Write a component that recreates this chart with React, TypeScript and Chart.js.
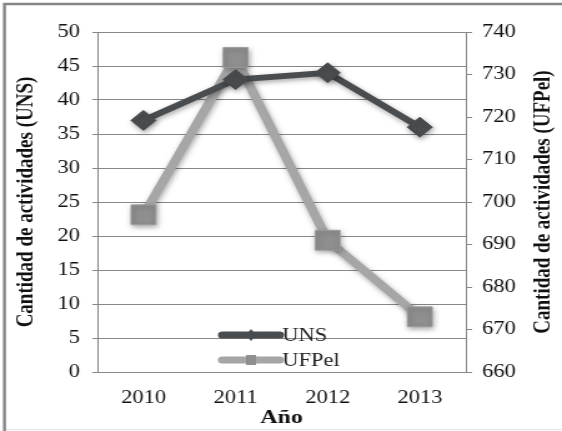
import React, { useEffect, useRef } from 'react';
import { Chart, registerables } from 'chart.js';
Chart.register(...registerables);

const years = ['2010', '2011', '2012', '2013'];
const unsValues = [37, 43, 44, 36];
const ufpelValues = [697, 734, 691, 673];
const seriesNames = ['UNS', 'UFPel'];
const leftTitle = 'Cantidad de actividades (UNS)';
const rightTitle = 'Cantidad de actividades (UFPel)';
const xTitle = 'Año';

// The reference is horizontally stretched: draw at a narrower width and stretch with CSS.
const OUT_W = 562;
const OUT_H = 431;
const BASE_W = 450;
const S = OUT_W / BASE_W;

const FONT = "'Liberation Serif', 'Times New Roman', serif";
const GRID = '#878787';
const UNS_COLOR = '#4a4d4f';
const UFPEL_LINE = '#a6a6a6';
const UFPEL_POINT = '#8f8f8f';

const shadowPlugin = {
  id: 'shadow',
  beforeDatasetDraw(chart: any) {
    const ctx = chart.ctx;
    ctx.save();
    ctx.shadowColor = 'rgba(0,0,0,0.35)';
    ctx.shadowBlur = 5;
    ctx.shadowOffsetX = 1;
    ctx.shadowOffsetY = 2;
  },
  afterDatasetDraw(chart: any) {
    chart.ctx.restore();
  },
};

const framePlugin = {
  id: 'frame',
  beforeDraw(chart: any) {
    const { ctx, width, height } = chart;
    ctx.save();
    ctx.fillStyle = '#ffffff';
    ctx.fillRect(0, 0, width, height);
    ctx.strokeStyle = '#858585';
    ctx.lineWidth = 2.4;
    ctx.beginPath();
    ctx.moveTo(3.6, height);
    ctx.lineTo(3.6, 4);
    ctx.lineTo(width, 4);
    ctx.stroke();
    ctx.strokeStyle = '#e6e6e6';
    ctx.lineWidth = 1;
    ctx.beginPath();
    ctx.moveTo(5, height - 1.5);
    ctx.lineTo(width, height - 1.5);
    ctx.stroke();
    ctx.restore();
  },
  afterDraw(chart: any) {
    const { ctx, chartArea } = chart;
    ctx.save();
    // right axis title (reads bottom to top)
    ctx.translate(543 / S, (chartArea.top + chartArea.bottom) / 2);
    ctx.rotate(-Math.PI / 2);
    ctx.font = `bold 19px ${FONT}`;
    ctx.fillStyle = '#111';
    ctx.textAlign = 'center';
    ctx.textBaseline = 'middle';
    ctx.fillText(rightTitle, 0, 0);
    ctx.restore();

    // legend inside plot area
    const items = [
      { name: seriesNames[0], color: UNS_COLOR, marker: 'diamond', dy: -37 },
      { name: seriesNames[1], color: UFPEL_LINE, marker: 'square', dy: -12 },
    ];
    const x0 = chartArea.left + 100;
    const x1 = chartArea.left + 146;
    items.forEach((it) => {
      const y = chartArea.bottom + it.dy;
      ctx.save();
      ctx.strokeStyle = it.color;
      ctx.lineWidth = 7;
      ctx.lineCap = 'round';
      ctx.beginPath();
      ctx.moveTo(x0, y);
      ctx.lineTo(x1, y);
      ctx.stroke();
      const mx = (x0 + x1) / 2;
      if (it.marker === 'diamond') {
        ctx.fillStyle = UNS_COLOR;
        ctx.beginPath();
        ctx.moveTo(mx - 4, y);
        ctx.lineTo(mx, y - 6);
        ctx.lineTo(mx + 4, y);
        ctx.lineTo(mx, y + 6);
        ctx.closePath();
        ctx.fill();
      } else {
        ctx.fillStyle = UFPEL_POINT;
        ctx.fillRect(mx - 4, y - 5, 8, 10);
      }
      ctx.font = `18px ${FONT}`;
      ctx.fillStyle = '#222';
      ctx.textAlign = 'left';
      ctx.textBaseline = 'middle';
      ctx.fillText(it.name, x1 + 2, y + 1);
      ctx.restore();
    });
  },
};

export default function App() {
  const ref = useRef<HTMLCanvasElement | null>(null);
  useEffect(() => {
    document.body.style.margin = '0';
    const canvas = ref.current;
    if (!canvas) return;
    const chart = new Chart(canvas, {
      type: 'line',
      data: {
        labels: years,
        datasets: [
          {
            label: seriesNames[0],
            data: unsValues,
            yAxisID: 'y',
            borderColor: UNS_COLOR,
            backgroundColor: UNS_COLOR,
            borderWidth: 6,
            pointStyle: 'rectRot',
            pointRadius: 10,
            pointBackgroundColor: UNS_COLOR,
            pointBorderColor: UNS_COLOR,
            pointBorderWidth: 1,
            tension: 0,
          },
          {
            label: seriesNames[1],
            data: ufpelValues,
            yAxisID: 'y1',
            borderColor: UFPEL_LINE,
            backgroundColor: UFPEL_POINT,
            borderWidth: 7.5,
            pointStyle: 'rect',
            pointRadius: 14,
            pointBackgroundColor: UFPEL_POINT,
            pointBorderColor: '#9c9c9c',
            pointBorderWidth: 1,
            tension: 0,
          },
        ],
      },
      options: {
        animation: false,
        responsive: false,
        maintainAspectRatio: false,
        layout: { padding: { top: 32, left: 0, right: 0, bottom: 0 } },
        plugins: {
          legend: { display: false },
          tooltip: { enabled: false },
        },
        scales: {
          x: {
            offset: true,
            grid: { display: false, drawTicks: false },
            border: { display: true, color: GRID, width: 1 },
            ticks: { color: '#111', font: { family: FONT, size: 18 }, padding: 15 },
            title: {
              display: true,
              text: xTitle,
              color: '#111',
              font: { family: FONT, size: 19, weight: 'bold' },
              padding: { top: 0, bottom: 2 },
            },
            afterFit(scale: any) {
              scale.height = 59;
            },
          },
          y: {
            position: 'left',
            min: 0,
            max: 50,
            grid: { color: GRID, lineWidth: 1, tickLength: 4 },
            border: { display: true, color: GRID, width: 1 },
            ticks: { stepSize: 5, color: '#111', font: { family: FONT, size: 18 }, padding: 10 },
            title: {
              display: true,
              text: leftTitle,
              color: '#111',
              font: { family: FONT, size: 19, weight: 'bold' },
              padding: { top: 10, bottom: 0 },
            },
            afterFit(scale: any) {
              scale.width = 78;
            },
          },
          y1: {
            position: 'right',
            min: 660,
            max: 740,
            grid: { drawOnChartArea: false, color: GRID, tickLength: 5 },
            border: { display: true, color: GRID, width: 1 },
            ticks: { stepSize: 10, color: '#111', font: { family: FONT, size: 18 }, padding: 8 },
            afterFit(scale: any) {
              scale.width = 77;
            },
          },
        },
      },
      plugins: [framePlugin, shadowPlugin],
    } as any);
    return () => chart.destroy();
  }, []);
  return (
    <div style={{ width: OUT_W, height: OUT_H, overflow: 'hidden' }}>
      <canvas
        ref={ref}
        width={BASE_W}
        height={OUT_H}
        style={{ display: 'block', width: BASE_W, height: OUT_H, transform: `scaleX(${S})`, transformOrigin: '0 0' }}
      />
    </div>
  );
}
